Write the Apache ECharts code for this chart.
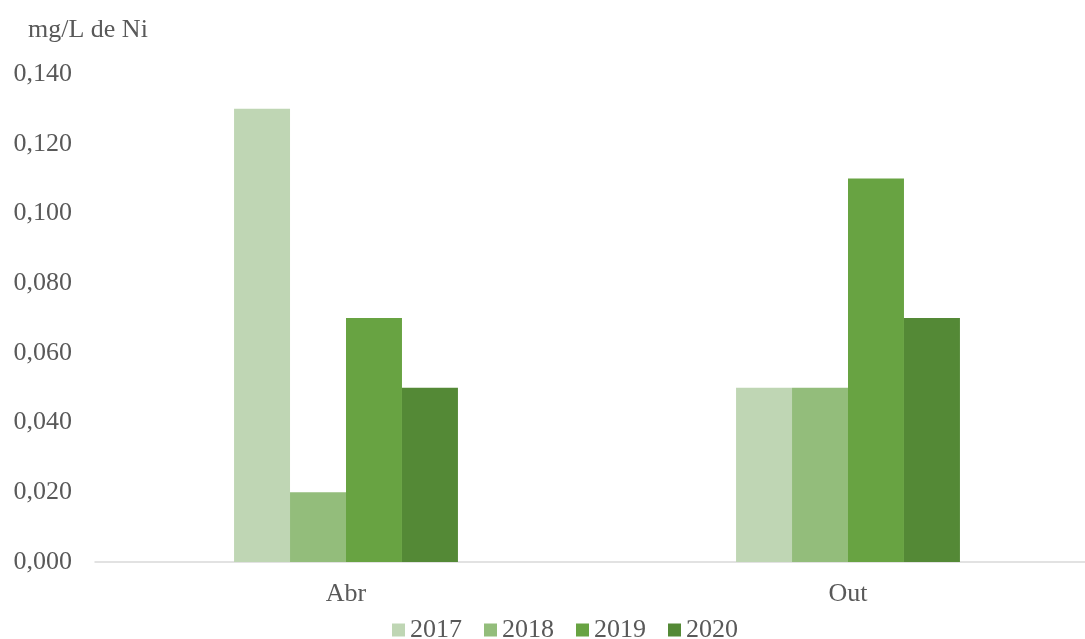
<!DOCTYPE html>
<html><head><meta charset="utf-8">
<script src="https://cdn.jsdelivr.net/npm/echarts@6/dist/echarts.min.js"></script>
<style>html,body{margin:0;padding:0;background:#fff}#c{width:1085px;height:639px}</style>
</head><body><div id="c"></div>
<script>
const categories = ['Abr', 'Out'];
const seriesNames = ['2017', '2018', '2019', '2020'];
const v2017 = [0.13, 0.05];
const v2018 = [0.02, 0.05];
const v2019 = [0.07, 0.11];
const v2020 = [0.05, 0.07];
const colors = ['#BFD6B4', '#93BD7B', '#68A342', '#548936'];
const values = [v2017, v2018, v2019, v2020];
const font = 'Liberation Serif';
const chart = echarts.init(document.getElementById('c'));
chart.setOption({
  animation: false,
  textStyle: {fontFamily: font},
  grid: {left: 95, top: 74, width: 1004, height: 488, containLabel: false, outerBoundsMode: 'none'},
  legend: {
    top: 617, left: 392, padding: 0, icon: 'rect', itemWidth: 13, itemHeight: 13, itemGap: 22,
    textStyle: {fontFamily: font, fontSize: 26, color: '#595959', padding: [0,0,0,0]},
    data: seriesNames
  },
  xAxis: {
    type: 'category', data: categories,
    axisLine: {lineStyle: {color: '#D9D9D9', width: 1.5}},
    axisTick: {show: false},
    axisLabel: {fontFamily: font, fontSize: 26, color: '#595959', margin: 19}
  },
  yAxis: {
    type: 'value', min: 0, max: 0.14, interval: 0.02,
    name: 'mg/L de Ni', nameLocation: 'end', nameGap: 31,
    nameTextStyle: {fontFamily: font, fontSize: 26, color: '#595959', align: 'left', padding: [0,0,0,-67]},
    axisLine: {show: false}, axisTick: {show: false}, splitLine: {show: false},
    axisLabel: {fontFamily: font, fontSize: 26, color: '#595959', margin: 23,
      formatter: v => v.toFixed(3).replace('.', ',')}
  },
  series: seriesNames.map((n, i) => ({
    name: n, type: 'bar', data: values[i], barGap: '0%', barCategoryGap: '55.4%',
    itemStyle: {color: colors[i]}
  }))
});
</script></body></html>
